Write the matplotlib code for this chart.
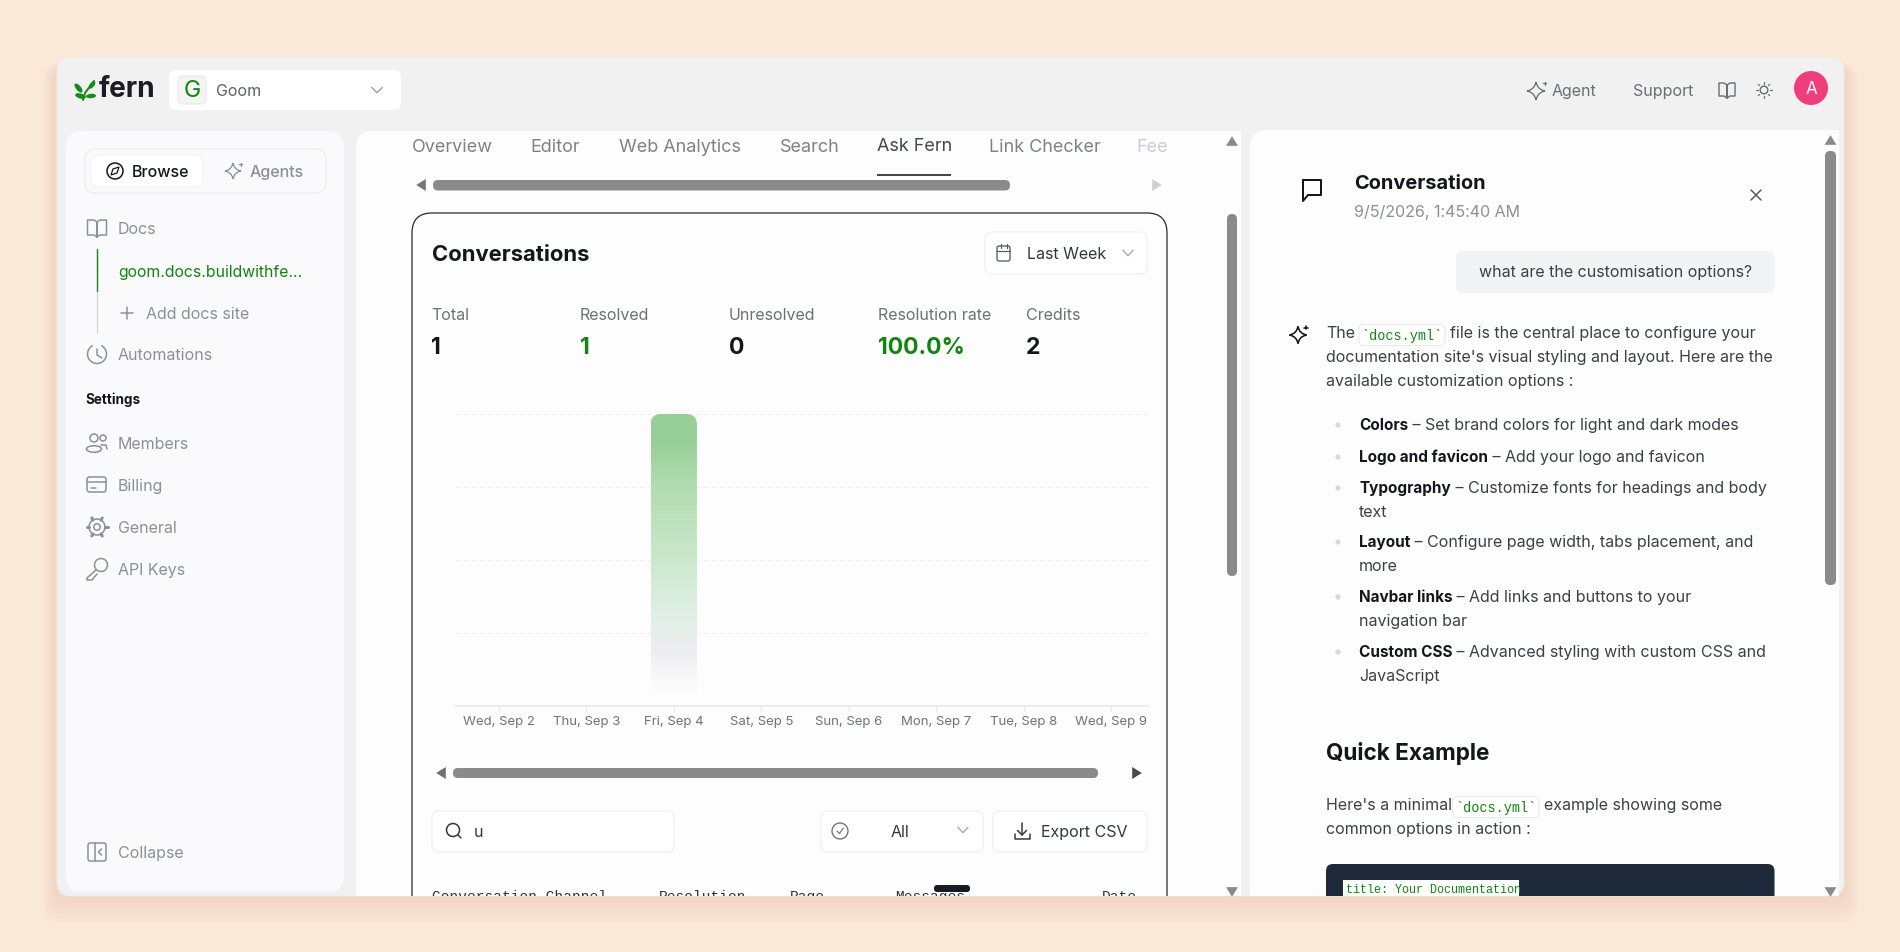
import numpy as np
import matplotlib
matplotlib.use('Agg')
import matplotlib.pyplot as plt
from matplotlib.colors import LinearSegmentedColormap
from matplotlib.patches import Circle, Ellipse, FancyBboxPatch, PathPatch, Rectangle
from matplotlib.path import Path
from matplotlib.transforms import Bbox

# chart data
day_labels = ['Wed, Sep 2', 'Thu, Sep 3', 'Fri, Sep 4', 'Sat, Sep 5',
              'Sun, Sep 6', 'Mon, Sep 7', 'Tue, Sep 8', 'Wed, Sep 9']
conversations = [0, 0, 1, 0, 0, 0, 0, 0]
grid_ticks = [0, 0.25, 0.5, 0.75, 1]

stat_labels = ['Total', 'Resolved', 'Unresolved', 'Resolution rate', 'Credits']
stat_values = ['1', '1', '0', '100.0%', '2']
tab_labels = ['Overview', 'Editor', 'Web Analytics', 'Search', 'Ask Fern', 'Link Checker', 'Fee']
nav_labels = ['Members', 'Billing', 'General', 'API Keys', 'Collapse']
table_columns = ['Conversation Channel', 'Resolution', 'Page', 'Messages', 'Date']
bullets = [('Colors', ' – Set brand colors for light and dark modes', None),
           ('Logo and favicon', ' – Add your logo and favicon', None),
           ('Typography', ' – Customize fonts for headings and body', 'text'),
           ('Layout', ' – Configure page width, tabs placement, and', 'more'),
           ('Navbar links', ' – Add links and buttons to your', 'navigation bar'),
           ('Custom CSS', ' – Advanced styling with custom CSS and', 'JavaScript')]

FONT = 'Inter'
MONO = 'Liberation Mono'
GRAY = '#8b9098'
DARK = '#14161c'
BODY = '#3b3f46'
GREEN = '#12850f'
THUMB = '#8a8a8a'

fig = plt.figure(figsize=(19, 9.52), dpi=100, facecolor='#fbe9d8')
ax = fig.add_axes([0, 0, 1, 1])
ax.set_xlim(0, 1900)
ax.set_ylim(952, 0)
ax.axis('off')
ax.set_autoscale_on(False)

# everything below the window's bottom edge is cut off (display coords, y up)
bottom_clip = Bbox([[0, 952 - 896], [1900, 952]])


def rbox(x0, y0, x1, y1, r, fc, ec='none', lw=1, **kw):
    p = FancyBboxPatch((x0, y0), x1 - x0, y1 - y0, boxstyle=f'round,pad=0,rounding_size={r}',
                       fc=fc, ec=ec, lw=lw * 0.72, **kw)
    ax.add_patch(p)
    return p


def txt(x, y, s, px=16, color=BODY, weight='normal', ha='left', family=FONT, clip=False):
    t = ax.text(x, y + 1.4, s, fontsize=px * 0.72, color=color, fontweight=weight, ha=ha, va='center',
                family=family)
    if clip:
        t.set_clip_on(True)
        t.set_clip_box(bottom_clip)
    return t


def width(t):
    bb = t.get_window_extent(fig.canvas.get_renderer())
    return bb.width


def stroke(xs, ys, color=GRAY, lw=1.5):
    ax.plot(xs, ys, color=color, lw=lw * 0.72, solid_capstyle='round', solid_joinstyle='round')


def curve(verts, codes, color=GRAY, lw=1.5, fc='none'):
    ax.add_patch(PathPatch(Path(verts, codes), fc=fc, ec=color, lw=lw * 0.72))


def chevron(cx, cy, w=5.5, color='#9aa0a6'):
    stroke([cx - w, cx, cx + w], [cy - 2.7, cy + 2.7, cy - 2.7], color, 1.2)


def sparkle(cx, cy, r=9, color=GRAY, lw=1.3):
    pts = [(0, -r), (r, 0), (0, r), (-r, 0)]
    verts = [(cx + pts[0][0], cy + pts[0][1])]
    codes = [Path.MOVETO]
    for i in range(4):
        a = pts[(i + 1) % 4]
        verts += [(cx + (pts[i][0] + a[0]) * .16, cy + (pts[i][1] + a[1]) * .16), (cx + a[0], cy + a[1])]
        codes += [Path.CURVE3, Path.CURVE3]
    curve(verts, codes, color, lw)
    stroke([cx + r * .75, cx + r * 1.15], [cy - r * .85, cy - r * .85], color, lw)
    stroke([cx + r * .95, cx + r * .95], [cy - r * 1.05, cy - r * .65], color, lw)


def book(cx, cy, w=9.5, h=8, color=GRAY, lw=1.5):
    stroke([cx, cx - 3, cx - w, cx - w, cx - 3, cx, cx, cx, cx + 3, cx + w, cx + w, cx + 3, cx],
           [cy - h + 2, cy - h, cy - h, cy + h - 1, cy + h - 1, cy + h + 1, cy - h + 2,
            cy + h + 1, cy + h - 1, cy + h - 1, cy - h, cy - h, cy - h + 2], color, lw)


def scroll_arrow(cx, cy, direction, color=THUMB, s=5):
    if direction == 'up':
        pts = [(cx - s, cy + s * .8), (cx + s, cy + s * .8), (cx, cy - s * .8)]
    elif direction == 'down':
        pts = [(cx - s, cy - s * .8), (cx + s, cy - s * .8), (cx, cy + s * .8)]
    elif direction == 'left':
        pts = [(cx + s * .8, cy - s), (cx + s * .8, cy + s), (cx - s * .8, cy)]
    else:
        pts = [(cx - s * .8, cy - s), (cx - s * .8, cy + s), (cx + s * .8, cy)]
    ax.fill(*zip(*pts), color=color, lw=0)


# window shadow, window and panels
for i in range(12):
    rbox(57 - i * 1.3, 64, 1844 + i * 1.3, 896 + i * 2.6, 16, '#c99a68', alpha=0.016)
window = rbox(57, 57, 1844, 896, 14, '#f1f1f1', ec='#ececec')

side = rbox(66, 131, 344, 892, 16, '#fafafc')
center = rbox(356, 131, 700, 960, 16, '#fdfdfd')
ax.add_patch(Rectangle((500, 131), 741, 765, fc='#fdfdfd', ec='none'))
right = rbox(1250, 130, 1600, 960, 16, '#fdfdfd')
ax.add_patch(Rectangle((1400, 130), 439, 766, fc='#fdfdfd', ec='none'))
center.set_clip_path(window)
right.set_clip_path(window)

# top bar
for (ex, ey, ew, eh, ang) in [(78.5, 88, 11, 5, 50), (80.5, 96, 11, 5, 15), (92, 85, 9, 4.4, -50), (91, 96, 10, 4.4, -5)]:
    ax.add_patch(Ellipse((ex, ey), ew, eh, angle=ang, color='#178a17', lw=0))
stroke([83, 85, 94], [100, 93, 81], '#178a17', 2)
txt(98.5, 88.5, 'fern', 28, '#1c1c22', 'bold')

rbox(169, 70, 401, 110, 7, 'white')
rbox(178, 76, 206, 104, 5, '#f4f4f4', ec='#e6e6e6')
txt(192, 90, 'G', 23, GREEN, ha='center')
txt(216, 90, 'Goom', 16, '#5c5f66')
chevron(377, 90, color='#8e9298')

sparkle(1536, 91, 9, '#6b7078')
txt(1552, 90, 'Agent', 16, '#696d74')
txt(1633, 90, 'Support', 16, '#696d74')
book(1727, 90, 8, 7, '#696d74', 1.4)
ax.add_patch(Circle((1764, 90), 3.8, fc='none', ec='#696d74', lw=1))
for a in np.arange(0, 360, 45):
    c, s = np.cos(np.radians(a)), np.sin(np.radians(a))
    stroke([1764 + 6.2 * c, 1764 + 8 * c], [90 + 6.2 * s, 90 + 8 * s], '#696d74', 1.2)
ax.add_patch(Circle((1811, 88), 17, fc='#ee3f7c', ec='none'))
txt(1811, 88, 'A', 17, 'white', ha='center')

# sidebar
rbox(85, 149, 326, 193, 10, '#fafafc', ec='#e8e8ee')
rbox(91, 155, 203, 187, 8, 'white', ec='#f2f2f4')
ax.add_patch(Circle((115, 171), 8, fc='none', ec=DARK, lw=1.1))
ax.fill([119, 113, 111, 117], [167, 169, 175, 173], fc='none', ec=DARK, lw=0.9)
txt(132, 171, 'Browse', 16, DARK, 'medium')
sparkle(233, 171, 8, GRAY)
txt(250, 171, 'Agents', 16, GRAY, 'medium')

book(97, 228, 9.5, 8)
txt(118, 228, 'Docs', 16, GRAY)
stroke([96.5, 96.5], [291, 333], '#cfd2d6', 1.2)
stroke([96.5, 96.5], [249, 291], GREEN, 1.4)
txt(118, 271, 'goom.docs.buildwithfe...', 15.8, GREEN)
stroke([121, 133], [313, 313], GRAY)
stroke([127, 127], [307, 319], GRAY)
txt(146, 313, 'Add docs site', 16, GRAY)

th = np.radians(np.arange(-60, 250, 10))
stroke(97 + 9.5 * np.cos(th), 354 + 9.5 * np.sin(th), GRAY)
stroke([97, 97, 102], [349, 355, 358], GRAY)
txt(118, 354, 'Automations', 16, GRAY)
txt(85, 398, 'Settings', 13.5, DARK, 'bold')

nav_y = [443, 485, 527, 569, 852]
for label, y in zip(nav_labels, nav_y):
    txt(118, y, label, 16, GRAY)
# members
ax.add_patch(Circle((94, 438), 4, fc='none', ec=GRAY, lw=1.1))
ax.add_patch(Circle((103, 438), 3, fc='none', ec=GRAY, lw=1.1))
ax.add_patch(Ellipse((94, 449), 15, 6.5, fc='none', ec=GRAY, lw=1.1))
stroke([101, 106, 107], [445, 445, 449], GRAY)
# billing
rbox(87, 477, 106, 492, 2.5, 'none', ec=GRAY, lw=1.5)
stroke([87, 106], [481.5, 481.5], GRAY)
stroke([91, 96], [487.5, 487.5], GRAY)
# general
ax.add_patch(Circle((97, 527), 3.2, fc='none', ec=GRAY, lw=1.1))
ax.add_patch(Circle((97, 527), 8, fc='none', ec=GRAY, lw=1.1))
for a in np.arange(0, 360, 60):
    c, s = np.cos(np.radians(a)), np.sin(np.radians(a))
    stroke([97 + 8 * c, 97 + 10.5 * c], [527 + 8 * s, 527 + 10.5 * s], GRAY, 3)
# api keys
ax.add_patch(Circle((101, 565), 6.5, fc='none', ec=GRAY, lw=1.1))
stroke([96, 87, 87, 92, 97], [570, 578, 580, 580, 574], GRAY)
# collapse
rbox(88, 843, 106, 861, 2, 'none', ec=GRAY, lw=1.5)
stroke([95, 95], [843, 861], GRAY)
stroke([101.5, 98.5, 101.5], [849, 852, 855], GRAY)

# tabs
tab_x = [412, 530, 619, 780, 877, 989, 1136]
for label, x in zip(tab_labels, tab_x):
    active = label == 'Ask Fern'
    col = '#42464d' if active else '#7d828a'
    if label == 'Fee':
        col = '#c9ccd0'
    txt(x, 145 if active else 146, label, 18, col)
ax.add_patch(Rectangle((877, 174), 74, 2, fc='#42464d', ec='none'))
scroll_arrow(421, 185, 'left', '#777777', 6)
rbox(433, 180, 1010, 190.5, 5, THUMB)
scroll_arrow(1157, 185, 'right', '#cfcfcf', 6)
scroll_arrow(1232, 141, 'up', THUMB, 6)
rbox(1227, 214, 1237, 576, 5, THUMB)
scroll_arrow(1232, 892, 'down', THUMB, 6)

# card
card = rbox(412, 213, 1167, 990, 20, '#fdfdfd', ec='#2f3038', lw=1.3)
card.set_clip_path(window)
txt(432, 254, 'Conversations', 22, DARK, 'bold')
rbox(985, 232, 1147, 274, 7, 'white', ec='#ececec')
rbox(997, 246, 1010, 261, 2, 'none', ec='#555a62', lw=1.3)
stroke([997, 1010], [250.5, 250.5], '#555a62', 1.2)
stroke([1000.5, 1000.5], [244, 248], '#555a62', 1.2)
stroke([1006.5, 1006.5], [244, 248], '#555a62', 1.2)
txt(1027, 253, 'Last Week', 16, '#33363c')
chevron(1128, 253, 5)

stat_x = [431, 580, 729, 878, 1026]
stat_colors = [DARK, GREEN, DARK, GREEN, DARK]
for label, value, x, col in zip(stat_labels, stat_values, stat_x, stat_colors):
    txt(x, 314, label, 16, '#6c7077')
    txt(x, 347, value, 23, col, 'bold')

# the bar chart itself
cax = fig.add_axes([455 / 1900, 1 - 706 / 952, (1148 - 455) / 1900, 292 / 952])
cax.patch.set_alpha(0)
x_pos = np.arange(len(day_labels))
xlim = (-0.5, 7.42)
bar_width = 0.53
stops = [(0, (1, 1, 1, 0)), (0.065, (0.985, 0.985, 0.985, 1)), (0.192, (0.93, 0.93, 0.94, 1)),
         (0.305, (0.88, 0.94, 0.90, 1)), (0.5, (0.80, 0.91, 0.80, 1)), (0.764, (0.69, 0.86, 0.69, 1)),
         (0.9, (0.60, 0.815, 0.60, 1)), (1, (0.59, 0.815, 0.59, 1))]
bar_cmap = LinearSegmentedColormap.from_list('bar_fade', stops)
for xp, v in zip(x_pos, conversations):
    if v <= 0:
        continue
    grad = np.linspace(1, 0, 256)[:, None]
    im = cax.imshow(grad, cmap=bar_cmap, vmin=0, vmax=1, aspect='auto', zorder=3,
                    extent=(xp - bar_width / 2, xp + bar_width / 2, 0, v))
    clip = FancyBboxPatch((xp - bar_width / 2, -0.2), bar_width, v + 0.2, fc='none', ec='none',
                          boxstyle='round,pad=0,rounding_size=0.12',
                          mutation_aspect=(693 / 7.92) / 292, transform=cax.transData)
    cax.add_patch(clip)
    im.set_clip_path(clip)
cax.set_xlim(*xlim)
cax.set_ylim(0, 1)
cax.set_xticks(x_pos, day_labels, fontsize=13.2 * 0.72, family=FONT, color='#6f7379')
cax.set_yticks(grid_ticks)
cax.tick_params(axis='y', length=0, labelleft=False)
cax.tick_params(axis='x', length=5 * 0.72, width=0.8, color='#e6e6e6', pad=3.5)
cax.set_axisbelow(True)
cax.grid(axis='y', color='#ececec', lw=0.72, linestyle=(0, (4, 4)))
for name in ['top', 'left', 'right']:
    cax.spines[name].set_visible(False)
cax.spines['bottom'].set_color('#ededed')
cax.spines['bottom'].set_linewidth(1.5)

scroll_arrow(441, 773, 'left', '#6f6f6f', 6)
rbox(453, 768, 1098, 778, 5, THUMB)
scroll_arrow(1137, 773, 'right', '#4a4a4a', 6)

# filter row
rbox(432, 811, 674, 852, 7, 'white', ec='#ececec')
ax.add_patch(Circle((453, 830), 6.5, fc='none', ec='#33363c', lw=1.1))
stroke([458, 461], [835, 838], '#33363c')
txt(474, 831, 'u', 16, '#33363c')
rbox(821, 811, 983, 852, 7, 'white', ec='#ececec')
ax.add_patch(Circle((840, 831), 8, fc='none', ec='#666a70', lw=0.9))
stroke([837, 839.5, 843.5], [831, 833.5, 828], '#666a70', 1.1)
txt(891, 831, 'All', 16, '#33363c')
chevron(963, 830, 5)
rbox(993, 811, 1147, 852, 7, 'white', ec='#ececec')
stroke([1022, 1022], [823, 835], '#33363c')
stroke([1017.5, 1022, 1026.5], [830.5, 835, 830.5], '#33363c')
stroke([1014.5, 1014.5, 1029.5, 1029.5], [834, 839, 839, 834], '#33363c')
txt(1041, 831, 'Export CSV', 16, '#33363c')

col_x = [432, 659, 790, 895, 1102]
for label, x in zip(table_columns, col_x):
    txt(x, 896, label, 14.5, '#30333a', family=MONO, clip=True)
rbox(934, 885, 970, 892, 3, '#1a1a26')

# conversation panel
scroll_arrow(1830.5, 140, 'up', THUMB, 6)
rbox(1825, 151, 1836, 585, 5, THUMB)
scroll_arrow(1830.5, 892, 'down', THUMB, 6)

bx = [1303, 1321, 1321, 1308, 1303, 1303]
by = [180, 180, 195, 195, 201, 180]
stroke(bx, by, DARK, 2)
txt(1354.5, 183, 'Conversation', 20, DARK, 'bold')
txt(1354.5, 211, '9/5/2026, 1:45:40 AM', 16, GRAY)
stroke([1751, 1761], [190, 200], '#555a62')
stroke([1751, 1761], [200, 190], '#555a62')

rbox(1456, 251, 1774.5, 293, 8, '#f2f3f4')
txt(1479, 271, 'what are the customisation options?', 16, BODY)

sparkle(1298, 335, 8.5, DARK, 1.6)


def code_pill(x0, x1, y):
    rbox(x0, y - 10.5, x1, y + 10.5, 5, 'white', ec='#e9e9e9')
    txt((x0 + x1) / 2, y, '`docs.yml`', 13.5, GREEN, ha='center', family=MONO)


txt(1326, 332, 'The', 16, BODY)
code_pill(1359, 1445, 335)
txt(1450, 332, 'file is the central place to configure your', 16, BODY)
txt(1326, 356, "documentation site's visual styling and layout. Here are the", 16, BODY)
txt(1326, 380, 'available customization options :', 16, BODY)

bullet_y = [424, 456, 487, 541, 596, 651]
for (head, rest, second), y in zip(bullets, bullet_y):
    ax.add_patch(Circle((1338, y + 1), 2.6, fc='#d6d8dc', ec='none'))
    h = txt(1359, y, head, 15.3, DARK, 'bold')
    txt(1359 + width(h), y, rest, 16, BODY)
    if second:
        txt(1359, y + 24, second, 16, BODY)

txt(1326, 752, 'Quick Example', 22.6, DARK, 'bold')
txt(1326, 804, "Here's a minimal", 16, BODY)
code_pill(1452.5, 1539, 807)
txt(1544, 804, 'example showing some', 16, BODY)
txt(1326, 828, 'common options in action :', 16, BODY)

block = rbox(1326, 864, 1774.5, 930, 7, '#1e2a3a')
block.set_clip_path(window)
ax.add_patch(Rectangle((1343, 880), 176, 16, fc='white', ec='none'))
txt(1346, 889, 'title: Your Documentation', 11.8, GREEN, family=MONO, clip=True)

fig.savefig('out.png', dpi=100, facecolor=fig.get_facecolor())
